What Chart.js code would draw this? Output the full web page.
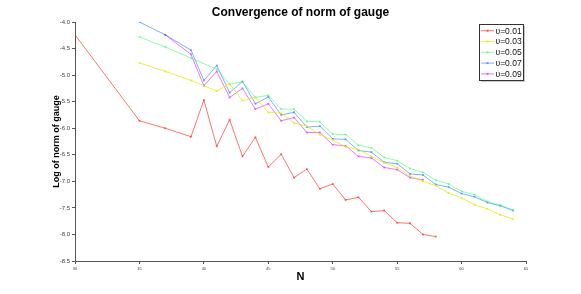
<!DOCTYPE html>
<html>
<head>
<meta charset="utf-8">
<script src="https://cdn.jsdelivr.net/npm/chart.js"></script>
<style>
  html, body { margin: 0; padding: 0; background: #fff; }
</style>
</head>
<body>
<div style="height:294px;width:581px;">
  <canvas id="myChart"></canvas>
</div>

<script>
// N values, 30..64 (null = no point for that series)
const nVals = [30,31,32,33,34,35,36,37,38,39,40,41,42,43,44,45,46,47,48,49,50,51,52,53,54,55,56,57,58,59,60,61,62,63,64];

const nu001 = [-4.24,null,null,null,null,-5.86,null,-6.0,null,-6.16,-5.47,-6.34,-5.84,-6.53,-6.17,-6.73,-6.49,-6.93,-6.77,-7.14,-7.05,-7.35,-7.30,-7.57,-7.55,-7.78,-7.79,-8.0,-8.04,null,null,null,null,null,null];
const nu003 = [null,null,null,null,null,-4.77,null,-4.93,null,-5.10,null,-5.30,-5.17,-5.48,-5.42,-5.70,-5.72,-5.90,-5.96,-6.12,-6.22,-6.35,-6.40,-6.53,-6.65,-6.74,-6.90,-7.0,-7.08,-7.22,-7.31,-7.44,-7.52,-7.63,-7.71];
const nu005 = [null,null,null,null,null,-4.28,null,-4.47,null,-4.68,null,-4.89,-5.17,-5.13,-5.42,-5.38,-5.64,-5.64,-5.87,-5.88,-6.11,-6.12,-6.32,-6.37,-6.55,-6.61,-6.76,-6.83,-6.98,-7.05,-7.19,-7.25,-7.38,-7.45,-7.54];
const nu007 = [null,null,null,null,null,-4.0,null,-4.24,null,-4.53,-5.10,-4.82,-5.33,-5.12,-5.54,-5.41,-5.75,-5.70,-5.98,-5.96,-6.2,-6.21,-6.42,-6.45,-6.64,-6.67,-6.86,-6.88,-7.06,-7.11,-7.23,-7.29,-7.40,-7.46,-7.55];
const nu009 = [null,null,null,null,null,null,null,-4.24,null,-4.61,-5.2,-4.93,-5.42,-5.25,-5.64,-5.54,-5.86,-5.80,-6.08,-6.08,-6.31,-6.33,-6.53,-6.56,-6.74,-6.78,-6.93,-6.97,null,null,null,null,null,null,null];

const seriesLabels = ['υ=0.01','υ=0.03','υ=0.05','υ=0.07','υ=0.09'];
const seriesColors = ['rgba(255,40,40,0.65)','rgba(225,235,0,0.75)','rgba(40,255,110,0.55)','rgba(30,110,255,0.55)','rgba(225,30,255,0.6)'];

function pts(vals){
  return nVals.map((n,i) => ({x:n, y:vals[i]})).filter(p => p.y !== null);
}

const datasets = [nu001,nu003,nu005,nu007,nu009].map((v,i) => ({
  label: seriesLabels[i],
  data: pts(v),
  borderColor: seriesColors[i],
  backgroundColor: seriesColors[i],
  borderWidth: 1,
  pointStyle: 'rect',
  pointRadius: 1.3,
  pointBorderWidth: 0,
  tension: 0
}));

const extras = {
  id: 'extras',
  afterDraw(chart){
    const ctx = chart.ctx;
    const a = chart.chartArea;
    ctx.save();
    // title
    ctx.fillStyle = '#000';
    ctx.font = 'bold 12px "Liberation Sans", Arial, sans-serif';
    ctx.textAlign = 'center';
    ctx.textBaseline = 'middle';
    ctx.fillText('Convergence of norm of gauge', (a.left + a.right)/2, 13);

    // legend box
    const bx = 479.5, by = 24.5, bw = 44, bh = 56;
    ctx.fillStyle = '#c8c8c8';
    ctx.fillRect(bx + 1.5, by + 1.5, bw, bh);
    ctx.fillStyle = '#fff';
    ctx.fillRect(bx, by, bw, bh);
    ctx.strokeStyle = '#333';
    ctx.lineWidth = 1;
    ctx.strokeRect(bx, by, bw, bh);
    ctx.font = '8.5px "Liberation Sans", Arial, sans-serif';
    ctx.textAlign = 'left';
    chart.data.datasets.forEach((ds, i) => {
      const y = 30.7 + i * 10.8;
      ctx.strokeStyle = ds.borderColor;
      ctx.beginPath();
      ctx.moveTo(481, y);
      ctx.lineTo(494, y);
      ctx.stroke();
      ctx.fillStyle = ds.borderColor;
      ctx.fillRect(486.5, y - 1, 2, 2);
      ctx.fillStyle = '#111';
      ctx.fillText(ds.label, 495.5, y + 0.5);
    });
    ctx.restore();
  }
};

const config = {
  type: 'line',
  data: { datasets: datasets },
  options: {
    responsive: true,
    maintainAspectRatio: false,
    animation: false,
    layout: { padding: { top: 22, right: 55, left: 0, bottom: 0 } },
    plugins: {
      legend: { display: false },
      title: { display: false },
      tooltip: { enabled: false }
    },
    scales: {
      x: {
        type: 'linear',
        min: 30,
        max: 65,
        afterFit(scale){ scale.height = 33; },
        ticks: { stepSize: 5, padding: 2, color: '#444', font: { size: 4, family: '"Liberation Sans", Arial, sans-serif' }, maxRotation: 0 },
        grid: { drawOnChartArea: false, tickLength: 3, color: '#555' },
        border: { color: '#555', width: 1 },
        title: { display: true, text: 'N', color: '#000', padding: { top: 0, bottom: 10 }, font: { size: 11, weight: 'bold', family: '"Liberation Sans", Arial, sans-serif' } }
      },
      y: {
        min: -8.5,
        max: -4,
        afterFit(scale){ scale.width = 75; },
        ticks: { stepSize: 0.5, padding: 2, color: '#444', font: { size: 6, family: '"Liberation Sans", Arial, sans-serif' } },
        grid: { drawOnChartArea: false, tickLength: 3, color: '#555' },
        border: { color: '#555', width: 1 },
        title: { display: true, text: 'Log of norm of gauge', color: '#000', padding: { top: 51, bottom: 0 }, font: { size: 9, weight: 'bold', family: '"Liberation Sans", Arial, sans-serif' } }
      }
    }
  },
  plugins: [extras]
};

var myChart = new Chart(document.getElementById('myChart'), config);
</script>
</body>
</html>
